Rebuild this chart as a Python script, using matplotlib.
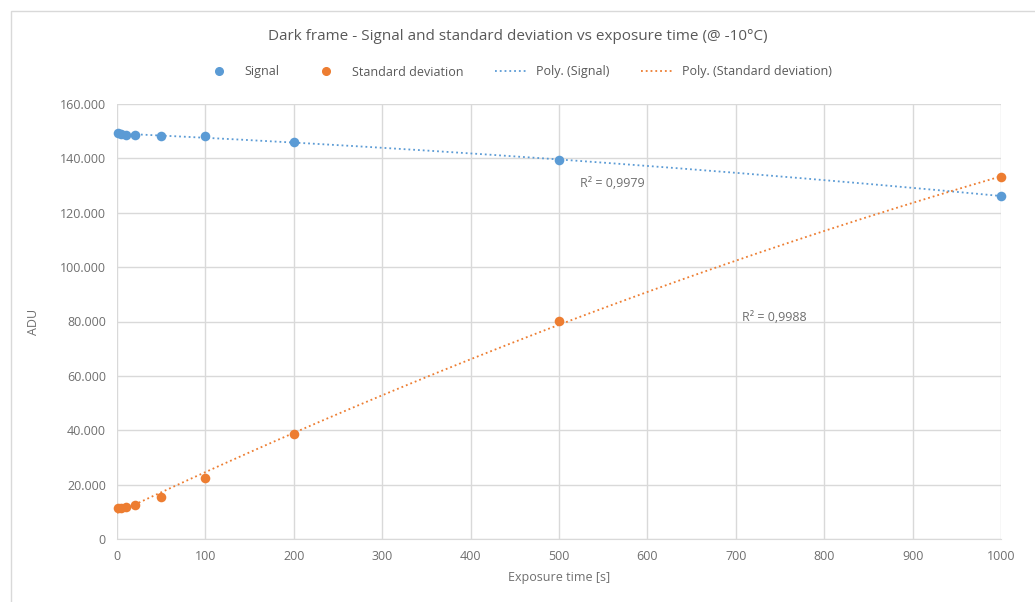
import numpy as np
import matplotlib.pyplot as plt
from matplotlib.lines import Line2D
from matplotlib.patches import Rectangle
from matplotlib.ticker import FuncFormatter

plt.rcParams['font.family'] = ['Open Sans', 'DejaVu Sans']

# data
exposure = [1, 5, 10, 20, 50, 100, 200, 500, 1000]
signal = [149400, 149000, 148700, 148700, 148300, 148100, 145900, 139400, 126200]
std_dev = [11400, 11500, 11800, 12500, 15300, 22600, 38600, 80100, 133100]

blue = '#5B9BD5'
orange = '#ED7D31'
grey = '#595959'
lightgrey = '#6F6F6F'

fig = plt.figure(figsize=(10.35, 6.02), dpi=100)
ax = fig.add_axes([117/1035, 1-539/602, (1001-117)/1035, (539-104)/602])

# chart border
fig.patches.append(Rectangle((11/1035, -0.1), 1.2, (1-11/602)+0.1, transform=fig.transFigure,
                             fill=False, edgecolor='#D9D9D9', lw=1.0))

# polynomial trendlines (order 2)
xs = np.linspace(0, 1000, 200)
p_sig = np.polyfit(exposure, signal, 2)
p_std = np.polyfit(exposure, std_dev, 2)
ax.plot(xs, np.polyval(p_sig, xs), ':', color=blue, lw=1.3, zorder=3)
ax.plot(xs, np.polyval(p_std, xs), ':', color=orange, lw=1.3, zorder=3)

ax.scatter(exposure, signal, s=48, color=blue, zorder=4, linewidths=0, clip_on=False)
ax.scatter(exposure, std_dev, s=48, color=orange, zorder=4, linewidths=0, clip_on=False)

ax.text(524, 130900, 'R² = 0,9979', fontsize=9, color=lightgrey, va='center')
ax.text(707, 81300, 'R² = 0,9988', fontsize=9, color=lightgrey, va='center')

ax.set_xlim(0, 1000)
ax.set_ylim(0, 160000)
ax.set_xticks(np.arange(0, 1001, 100))
ax.set_yticks(np.arange(0, 160001, 20000))
ax.yaxis.set_major_formatter(FuncFormatter(lambda v, p: f'{int(v):,}'.replace(',', '.')))
ax.grid(True, color='#D9D9D9', lw=1.0)
ax.set_axisbelow(True)
for s in ['top', 'right', 'left']:
    ax.spines[s].set_visible(False)
ax.spines['bottom'].set_color('#D9D9D9')
ax.tick_params(length=0, labelsize=9, labelcolor=lightgrey, pad=8)

ax.set_xlabel('Exposure time [s]', fontsize=9, color=lightgrey, labelpad=6)
ax.set_ylabel('ADU', fontsize=9, color=lightgrey, labelpad=14)

fig.text(0.5, 1-37/602, 'Dark frame - Signal and standard deviation vs exposure time (@ -10°C)',
         ha='center', va='center', fontsize=11, color=grey)

handles = [Line2D([], [], ls='', marker='o', ms=5.5, color=blue),
           Line2D([], [], ls='', marker='o', ms=5.5, color=orange),
           Line2D([], [], ls=':', lw=1.3, color=blue),
           Line2D([], [], ls=':', lw=1.3, color=orange)]
labels = ['Signal', 'Standard deviation', 'Poly. (Signal)', 'Poly. (Standard deviation)']
fig.legend(handles, labels, loc='center', bbox_to_anchor=(0.5, 1-72/602), ncol=4, frameon=False,
           fontsize=9, labelcolor=grey, handlelength=2.5, columnspacing=2.5)

plt.savefig('out.png', dpi=100)
